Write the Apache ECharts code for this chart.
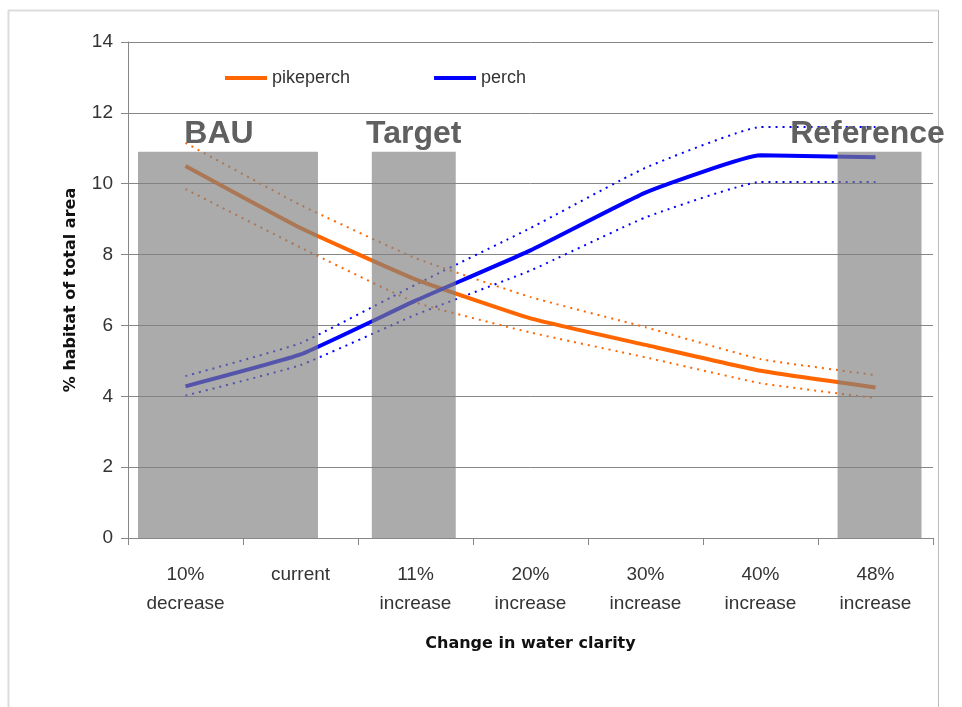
<!DOCTYPE html>
<html>
<head>
<meta charset="utf-8">
<script src="https://cdn.jsdelivr.net/npm/echarts@6/dist/echarts.min.js"></script>
<style>
  html, body { margin: 0; padding: 0; background: #fff; }
  #chart { width: 962px; height: 707px; }
</style>
</head>
<body>
<div id="chart"></div>
<script>
// Water clarity scenarios
var categories = ['10%\ndecrease', 'current', '11%\nincrease', '20%\nincrease', '30%\nincrease', '40%\nincrease', '48%\nincrease'];

// Habitat share (% of total area) with upper / lower bounds
var pikeperch      = [10.5, 8.75, 7.3, 6.2, 5.45, 4.72, 4.25];
var pikeperchUpper = [11.15, 9.4, 7.9, 6.8, 5.95, 5.05, 4.6];
var pikeperchLower = [9.85, 8.2, 6.65, 5.8, 5.1, 4.37, 3.95];

var perch      = [4.28, 5.18, 6.7, 8.12, 9.75, 10.8, 10.75];
var perchUpper = [4.57, 5.5, 7.15, 8.75, 10.45, 11.6, 11.6];
var perchLower = [4.02, 4.88, 6.3, 7.55, 9.05, 10.05, 10.05];

// Scenario bands: name, start and end (in category units), height
var bandNames  = ['BAU', 'Target', 'Reference'];
var bandStart  = [0.087, 2.12, 6.17];
var bandEnd    = [1.652, 2.85, 6.9];
var bandHeight = [10.9, 10.9, 10.9];

var yTicks = [0, 2, 4, 6, 8, 10, 12, 14];

// Horizontal nudge of each band caption (px)
var captionShift = { BAU: -9, Target: 0, Reference: -12 };

var ORANGE = '#ff6600';
var BLUE = '#0000ff';
var SMOOTH = 0.12;

var bands = bandNames.map(function (n, i) {
  return [bandStart[i], bandEnd[i], bandHeight[i], i];
});

function boundSeries(name, data, color) {
  return {
    name: name,
    type: 'line',
    data: data,
    smooth: SMOOTH,
    symbol: 'none',
    silent: true,
    z: 2,
    lineStyle: { color: color, width: 2, type: [2, 5] }
  };
}

var chart = echarts.init(document.getElementById('chart'));
chart.setOption({
  animation: false,
  backgroundColor: '#ffffff',
  grid: { left: 128, right: 29, top: 42, bottom: 169, containLabel: false },
  legend: {
    data: ['pikeperch', 'perch'],
    left: 220,
    top: 64,
    icon: 'rect',
    itemWidth: 42,
    itemHeight: 4,
    itemGap: 84,
    textStyle: { fontFamily: 'Liberation Sans', fontSize: 18, color: '#333' }
  },
  xAxis: [{
    type: 'category',
    data: categories,
    boundaryGap: true,
    axisLine: { lineStyle: { color: '#878787', width: 1 } },
    axisTick: { show: true, length: 7, lineStyle: { color: '#878787' } },
    axisLabel: {
      fontFamily: 'Liberation Sans', fontSize: 19, color: '#333',
      lineHeight: 29, margin: 22, interval: 0
    },
    name: 'Change in water clarity',
    nameLocation: 'middle',
    nameGap: 98,
    nameTextStyle: { fontFamily: 'DejaVu Sans', fontWeight: 'bold', fontSize: 16, color: '#111' }
  }, {
    type: 'value',
    min: 0,
    max: 7,
    show: false
  }],
  yAxis: {
    type: 'value',
    min: 0,
    max: 14,
    interval: 2,
    axisLine: { show: true, lineStyle: { color: '#878787', width: 1 } },
    axisTick: { show: true, length: 7, lineStyle: { color: '#878787' } },
    axisLabel: {
      fontFamily: 'Liberation Sans', fontSize: 19, color: '#333', margin: 15,
      formatter: function (v) { return yTicks.indexOf(v) >= 0 ? String(v) : ''; }
    },
    splitLine: { lineStyle: { color: '#878787', width: 1 } },
    name: '% habitat of total area',
    nameLocation: 'middle',
    nameGap: 49,
    nameRotate: 90,
    nameTextStyle: { fontFamily: 'DejaVu Sans', fontWeight: 'bold', fontSize: 16, color: '#111' }
  },
  series: [
    boundSeries('pikeperch upper', pikeperchUpper, ORANGE),
    boundSeries('pikeperch lower', pikeperchLower, ORANGE),
    boundSeries('perch upper', perchUpper, BLUE),
    boundSeries('perch lower', perchLower, BLUE),
    {
      name: 'pikeperch',
      type: 'line',
      data: pikeperch,
      smooth: SMOOTH,
      symbol: 'none',
      z: 3,
      itemStyle: { color: ORANGE },
      lineStyle: { color: ORANGE, width: 4 }
    },
    {
      name: 'perch',
      type: 'line',
      data: perch,
      smooth: SMOOTH,
      symbol: 'none',
      z: 3,
      itemStyle: { color: BLUE },
      lineStyle: { color: BLUE, width: 4 }
    },
    {
      name: 'scenarios',
      type: 'custom',
      xAxisIndex: 1,
      yAxisIndex: 0,
      z: 5,
      silent: true,
      data: bands,
      renderItem: function (params, api) {
        var p0 = api.coord([api.value(0), api.value(2)]);
        var p1 = api.coord([api.value(1), 0]);
        var name = bandNames[api.value(3)];
        return {
          type: 'group',
          children: [{
            type: 'rect',
            shape: { x: p0[0], y: p0[1], width: p1[0] - p0[0], height: p1[1] - p0[1] },
            style: { fill: 'rgba(128,128,128,0.66)' }
          }, {
            type: 'text',
            style: {
              x: (p0[0] + p1[0]) / 2 + captionShift[name],
              y: p0[1] - 2,
              text: name,
              align: 'center',
              verticalAlign: 'bottom',
              fill: '#606060',
              font: 'bold 32px "Liberation Sans", Arial, sans-serif'
            }
          }]
        };
      }
    }
  ],
  graphic: [
    { type: 'line', shape: { x1: 8, y1: 10.5, x2: 938, y2: 10.5 }, style: { stroke: '#dcdcdc', lineWidth: 2 }, silent: true },
    { type: 'line', shape: { x1: 8.5, y1: 10, x2: 8.5, y2: 707 }, style: { stroke: '#dcdcdc', lineWidth: 2 }, silent: true },
    { type: 'line', shape: { x1: 938.5, y1: 10, x2: 938.5, y2: 707 }, style: { stroke: '#bdbdbd', lineWidth: 1 }, silent: true }
  ]
});
</script>
</body>
</html>
